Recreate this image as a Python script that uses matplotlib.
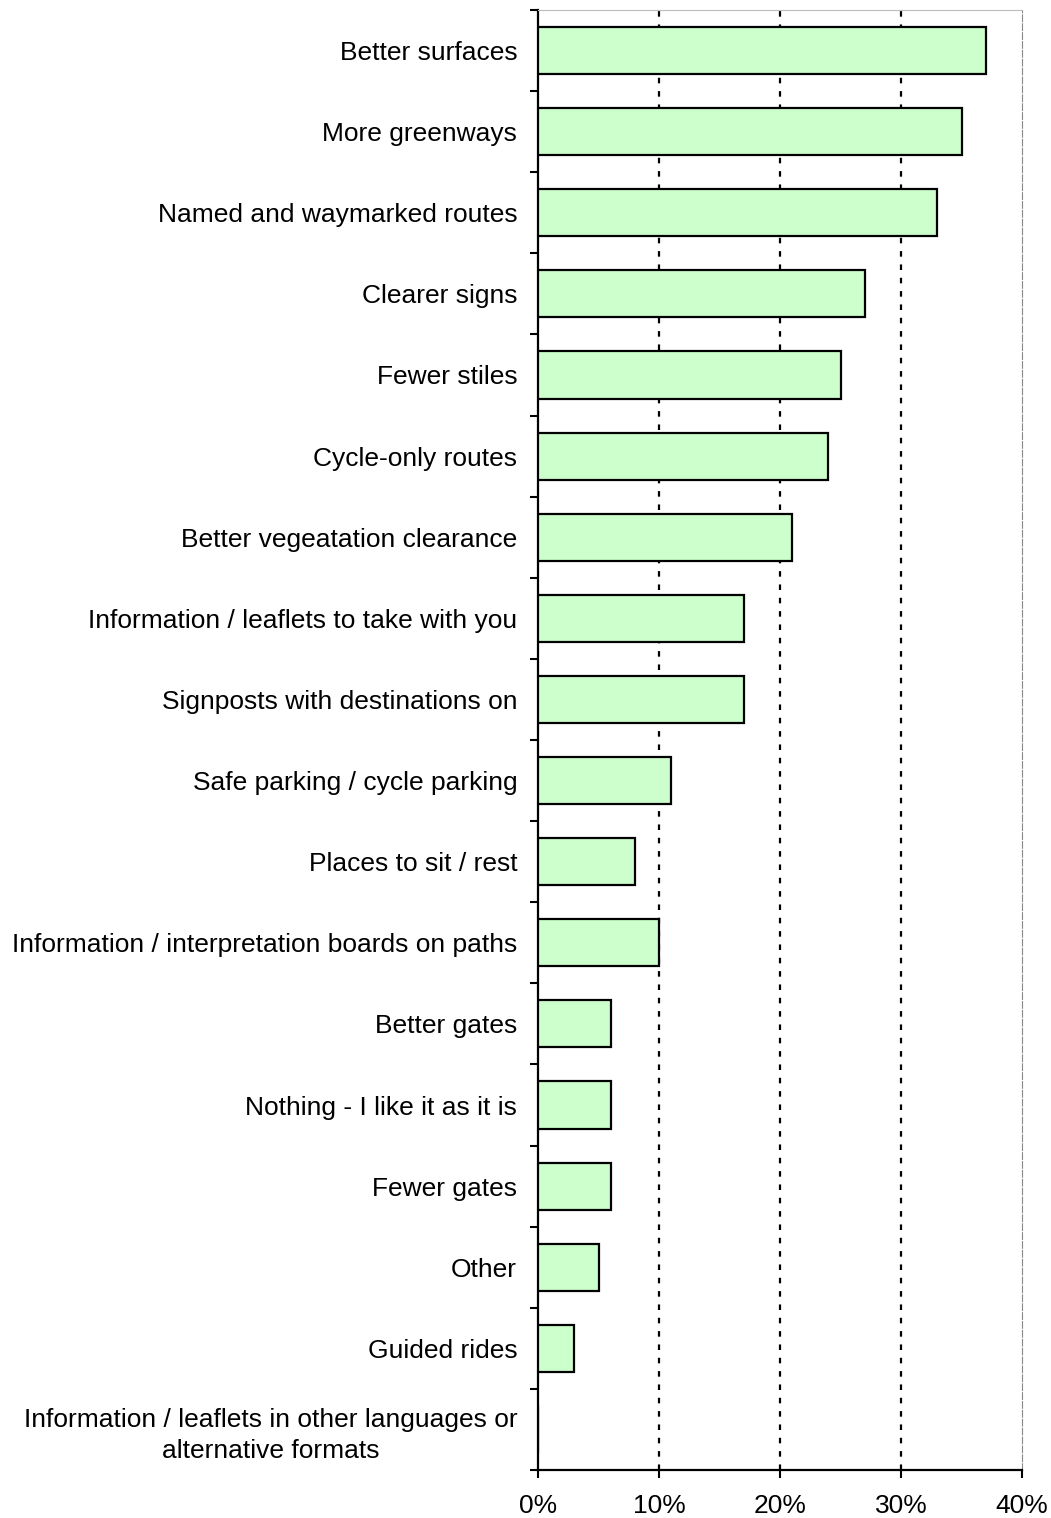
import numpy as np
import matplotlib.pyplot as plt
from matplotlib.ticker import FixedLocator, PercentFormatter

plt.rcParams['font.family'] = ['Liberation Sans', 'DejaVu Sans']
plt.rcParams['font.size'] = 19

categories = ["Better surfaces", "More greenways", "Named and waymarked routes",
              "Clearer signs", "Fewer stiles", "Cycle-only routes",
              "Better vegeatation clearance", "Information / leaflets to take with you",
              "Signposts with destinations on", "Safe parking / cycle parking",
              "Places to sit / rest", "Information / interpretation boards on paths",
              "Better gates", "Nothing - I like it as it is", "Fewer gates",
              "Other", "Guided rides",
              "Information / leaflets in other languages or\nalternative formats"]
values = [37, 35, 33, 27, 25, 24, 21, 17, 17, 11, 8, 10, 6, 6, 6, 5, 3, 0]
xticks = [0, 10, 20, 30, 40]

fig = plt.figure(figsize=(10.51, 15.18), dpi=100)
ax = fig.add_axes([538/1051, 1-1470/1518, (1022-538)/1051, (1470-10)/1518])

y = np.arange(len(categories))
ax.barh(y, values, height=0.58, color='#CCFFCC', edgecolor='black', linewidth=1.6, zorder=3)
ax.set_ylim(len(categories) - 0.5, -0.5)
ax.set_xlim(0, 40)

ax.set_yticks(y)
ax.set_yticklabels(categories, multialignment='center', linespacing=1.35)
ax.tick_params(axis='y', which='major', length=0, pad=15)
ax.yaxis.set_minor_locator(FixedLocator(np.arange(-0.5, len(categories), 1)))
ax.tick_params(axis='y', which='minor', length=6, width=1.5, direction='out')

ax.set_xticks(xticks)
ax.xaxis.set_major_formatter(PercentFormatter(decimals=0))
ax.tick_params(axis='x', length=6, width=1.5, direction='out', pad=11)

for v in xticks[1:-1]:
    ax.axvline(v, color='black', linestyle=(0, (2.5, 3.5)), linewidth=1.6, zorder=1)

ax.spines['left'].set_linewidth(1.6)
ax.spines['bottom'].set_linewidth(1.6)
ax.spines['top'].set_color('#bbbbbb')
ax.spines['right'].set_color('#888888')
ax.spines['right'].set_linestyle((0, (6, 2)))

plt.savefig("out.png")
